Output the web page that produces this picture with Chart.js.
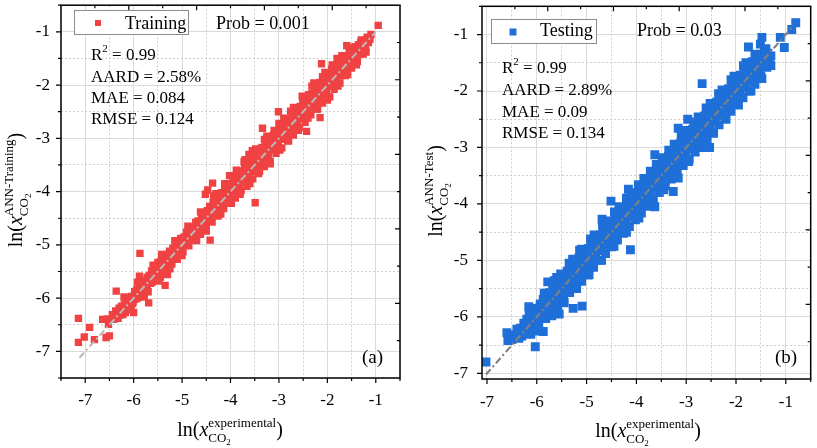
<!DOCTYPE html>
<html><head><meta charset="utf-8">
<script src="https://cdn.jsdelivr.net/npm/chart.js@4.4.1/dist/chart.umd.min.js"></script>
<style>
html,body{margin:0;padding:0;background:#fff;width:817px;height:448px;overflow:hidden}
#wa{position:absolute;left:0;top:0;width:410px;height:448px}
#wb{position:absolute;left:410px;top:0;width:407px;height:448px}
</style></head><body>
<div id="wa"><canvas id="ca" width="410" height="448"></canvas></div>
<div id="wb"><canvas id="cb" width="407" height="448"></canvas></div>
<script>
// ---------- data ----------
const tickLabels = [-7, -6, -5, -4, -3, -2, -1];
const ticksTrain = [-7.5,-7,-6.5,-6,-5.5,-5,-4.5,-4,-3.5,-3,-2.5,-2,-1.5,-1,-0.5];
const ticksTest = [-7,-6.5,-6,-5.5,-5,-4.5,-4,-3.5,-3,-2.5,-2,-1.5,-1,-0.5];
const diagTrain = [-7.12, -1.0];
const diagTest = [-7.02, -0.84];

const trainOutliers = [
[-7.14,-6.38],[-7.14,-6.83],[-7.02,-6.73],[-6.91,-6.55],[-6.81,-6.78],[-6.64,-6.40],[-6.57,-6.74],
[-6.50,-6.71],[-6.52,-6.49],[-6.55,-6.39],[-6.36,-5.87],[-5.87,-5.16],[-5.88,-5.59],[-5.35,-5.76],
[-5.30,-5.56],[-5.69,-6.09],[-6.00,-6.27],[-4.42,-4.91],[-4.37,-3.84],[-3.49,-4.21],[-3.34,-2.81],
[-3.01,-2.50],[-2.15,-2.61],[-2.43,-2.87],[-2.12,-1.60],[-1.60,-1.26],[-1.95,-2.22],[-0.95,-0.88],
[-4.47,-3.97],[-4.52,-4.05],[-3.62,-3.30]
];
const trainBand = [
[-6.44,-6.31],[-6.41,-6.40],[-6.37,-6.24],[-6.34,-6.35],
[-6.30,-6.19],[-6.28,-6.32],[-6.25,-6.15],[-6.22,-6.26],
[-6.19,-6.12],[-6.17,-6.27],[-6.14,-6.05],[-6.11,-6.21],[-6.09,-6.00],
[-6.06,-6.11],[-6.04,-5.97],[-6.01,-6.06],[-5.98,-5.88],[-5.96,-6.02],
[-5.93,-5.83],[-5.90,-5.96],[-5.88,-5.75],[-5.85,-5.89],[-5.82,-5.72],
[-5.80,-5.85],[-5.78,-5.67],[-5.75,-5.81],[-5.72,-5.61],[-5.70,-5.88],
[-5.68,-5.58],[-5.66,-5.72],[-5.63,-5.49],[-5.61,-5.65],[-5.58,-5.45],
[-5.56,-5.59],[-5.54,-5.40],[-5.52,-5.55],[-5.50,-5.33],[-5.47,-5.47],[-5.45,-5.61],
[-5.43,-5.29],[-5.41,-5.43],[-5.38,-5.21],[-5.36,-5.35],[-5.33,-5.47],
[-5.31,-5.18],[-5.29,-5.30],[-5.26,-5.12],[-5.24,-5.25],[-5.21,-5.36],
[-5.19,-5.06],[-5.17,-5.20],[-5.14,-5.02],[-5.12,-5.13],[-5.10,-5.27],
[-5.08,-4.95],[-5.05,-5.08],[-5.03,-4.88],[-5.01,-5.01],[-4.98,-5.13],
[-4.96,-4.85],[-4.94,-4.97],[-4.91,-4.76],[-4.89,-4.90],[-4.86,-5.02],
[-4.84,-4.71],[-4.82,-4.84],[-4.79,-4.66],[-4.77,-4.78],[-4.74,-4.90],
[-4.72,-4.58],[-4.70,-4.73],[-4.67,-4.55],[-4.65,-4.67],[-4.62,-4.80],
[-4.60,-4.47],[-4.58,-4.62],[-4.55,-4.40],[-4.53,-4.55],[-4.50,-4.68],
[-4.48,-4.36],[-4.46,-4.49],[-4.43,-4.28],[-4.41,-4.44],[-4.38,-4.57],
[-4.36,-4.21],[-4.34,-4.36],[-4.31,-4.16],[-4.29,-4.29],[-4.26,-4.46],[-4.30,-4.04],
[-4.24,-4.10],[-4.22,-4.26],[-4.19,-4.02],[-4.17,-4.17],[-4.14,-4.32],
[-4.12,-3.96],[-4.10,-4.12],[-4.07,-3.90],[-4.05,-4.06],[-4.02,-4.22],
[-4.00,-3.85],[-3.98,-4.02],[-3.95,-3.76],[-3.93,-3.92],[-3.90,-4.12],[-4.02,-3.70],
[-3.88,-3.74],[-3.86,-3.88],[-3.83,-3.65],[-3.81,-3.82],[-3.78,-3.98],
[-3.76,-3.61],[-3.74,-3.78],[-3.71,-3.52],[-3.69,-3.68],[-3.66,-3.90],[-3.72,-3.44],
[-3.64,-3.50],[-3.62,-3.64],[-3.59,-3.41],[-3.57,-3.58],[-3.54,-3.76],
[-3.52,-3.36],[-3.50,-3.53],[-3.47,-3.30],[-3.45,-3.45],[-3.42,-3.66],[-3.55,-3.23],
[-3.40,-3.26],[-3.38,-3.40],[-3.35,-3.17],[-3.33,-3.34],[-3.30,-3.53],
[-3.28,-3.12],[-3.26,-3.29],[-3.23,-3.06],[-3.21,-3.20],[-3.18,-3.43],[-3.25,-2.96],
[-3.16,-3.02],[-3.14,-3.16],[-3.11,-2.93],[-3.09,-3.10],[-3.06,-3.28],
[-3.04,-2.88],[-3.02,-3.05],[-2.99,-2.82],[-2.97,-2.96],[-2.94,-3.18],[-3.00,-2.72],
[-2.92,-2.77],[-2.90,-2.92],[-2.87,-2.70],[-2.85,-2.86],[-2.82,-3.04],
[-2.80,-2.64],[-2.78,-2.81],[-2.75,-2.58],[-2.73,-2.72],[-2.70,-2.94],[-2.76,-2.49],
[-2.68,-2.54],[-2.66,-2.68],[-2.63,-2.45],[-2.61,-2.62],[-2.58,-2.80],
[-2.56,-2.40],[-2.54,-2.57],[-2.51,-2.32],[-2.49,-2.48],[-2.46,-2.70],[-2.52,-2.21],
[-2.44,-2.30],[-2.42,-2.44],[-2.39,-2.18],[-2.37,-2.37],[-2.34,-2.56],
[-2.32,-2.16],[-2.30,-2.34],[-2.27,-2.06],[-2.25,-2.24],[-2.22,-2.45],[-2.28,-1.96],
[-2.20,-2.05],[-2.18,-2.20],[-2.15,-1.95],[-2.13,-2.14],[-2.10,-2.34],
[-2.08,-1.92],[-2.06,-2.10],[-2.03,-1.82],[-2.01,-2.00],[-1.98,-2.22],[-2.05,-1.76],
[-1.96,-1.82],[-1.94,-1.96],[-1.91,-1.70],[-1.89,-1.90],[-1.86,-2.08],
[-1.84,-1.68],[-1.82,-1.86],[-1.79,-1.60],[-1.77,-1.76],[-1.74,-1.96],[-1.80,-1.50],
[-1.72,-1.58],[-1.70,-1.72],[-1.67,-1.48],[-1.65,-1.66],[-1.62,-1.82],
[-1.60,-1.45],[-1.58,-1.62],[-1.55,-1.38],[-1.53,-1.54],[-1.50,-1.68],
[-1.48,-1.34],[-1.46,-1.50],[-1.43,-1.28],[-1.41,-1.42],[-1.38,-1.56],
[-1.36,-1.24],[-1.34,-1.38],[-1.31,-1.20],[-1.29,-1.32],[-1.26,-1.42],
[-1.24,-1.16],[-1.21,-1.28],[-1.18,-1.10],[-1.15,-1.20],[-1.12,-1.14]
];
const trainCore = [
[-6.35,-6.29],[-6.32,-6.38],[-6.25,-6.18],[-6.22,-6.31],[-6.15,-6.08],[-6.12,-6.21],[-6.05,-5.98],
[-6.02,-6.10],[-5.95,-5.87],[-5.92,-6.00],[-5.85,-5.78],[-5.82,-5.91],[-5.75,-5.68],[-5.72,-5.80],
[-5.65,-5.57],[-5.62,-5.71],[-5.55,-5.47],[-5.52,-5.61],[-5.45,-5.37],[-5.42,-5.50],[-5.35,-5.27],
[-5.32,-5.41],[-5.25,-5.17],[-5.22,-5.30],[-5.15,-5.07],[-5.12,-5.21],[-5.05,-4.97],[-5.02,-5.10],
[-4.95,-4.87],[-4.92,-5.01],[-4.85,-4.77],[-4.82,-4.91],[-4.75,-4.67],[-4.72,-4.80],[-4.65,-4.57],
[-4.62,-4.71],[-4.55,-4.47],[-4.52,-4.60],[-4.45,-4.37],[-4.42,-4.51],[-4.35,-4.27],[-4.32,-4.41],
[-4.25,-4.16],[-4.22,-4.31],[-4.15,-4.06],[-4.12,-4.21],[-4.05,-3.96],[-4.02,-4.11],[-3.95,-3.86],
[-3.92,-4.02],[-3.85,-3.76],[-3.82,-3.92],[-3.75,-3.66],[-3.72,-3.82],[-3.65,-3.56],[-3.62,-3.72],
[-3.55,-3.46],[-3.52,-3.62],[-3.45,-3.36],[-3.42,-3.52],[-3.35,-3.26],[-3.32,-3.42],[-3.25,-3.16],
[-3.22,-3.32],[-3.15,-3.06],[-3.12,-3.22],[-3.05,-2.96],[-3.02,-3.12],[-2.95,-2.86],[-2.92,-3.02],
[-2.85,-2.76],[-2.82,-2.92],[-2.75,-2.66],[-2.72,-2.82],[-2.65,-2.56],[-2.62,-2.72],[-2.55,-2.46],
[-2.52,-2.62],[-2.45,-2.36],[-2.42,-2.52],[-2.35,-2.26],[-2.32,-2.42],[-2.25,-2.16],[-2.22,-2.32],
[-2.15,-2.06],[-2.12,-2.22],[-2.05,-1.96],[-2.02,-2.12],[-1.95,-1.86],[-1.92,-2.02],[-1.85,-1.76],
[-1.82,-1.92],[-1.75,-1.66],[-1.72,-1.82],[-1.65,-1.56],[-1.62,-1.72],[-1.55,-1.47],[-1.52,-1.62],
[-1.45,-1.38],[-1.42,-1.52],[-1.35,-1.29],[-1.32,-1.42],[-1.25,-1.20],[-1.22,-1.32]
];
const trainEdge = [
[-6.20,-5.98],[-6.05,-6.22],[-5.92,-5.70],[-5.78,-5.98],[-5.60,-5.38],[-5.48,-5.68],[-5.42,-5.18],
[-5.25,-5.45],[-5.15,-4.92],[-5.00,-5.20],[-4.88,-4.65],[-4.70,-4.92],[-4.62,-4.38],[-4.50,-4.74],
[-4.35,-4.08],[-4.20,-4.42],[-4.12,-3.85],[-3.98,-4.22],[-3.88,-3.60],[-3.80,-4.05],[-3.70,-3.40],
[-3.60,-3.85],[-3.48,-3.20],[-3.40,-3.62],[-3.30,-3.02],[-3.18,-3.48],[-3.10,-2.85],[-2.98,-3.22],
[-2.90,-2.62],[-2.80,-3.05],[-2.70,-2.42],[-2.60,-2.85],[-2.50,-2.22],[-2.40,-2.62],[-2.32,-2.02],
[-2.20,-2.45],[-2.10,-1.84],[-2.00,-2.28],[-1.90,-1.62],[-1.78,-2.02],[-1.70,-1.45],[-1.58,-1.80],
[-1.52,-1.30],[-1.40,-1.62],[-1.30,-1.15],[-1.20,-1.38],[-1.10,-1.05]
];

const testOutliers = [
[-7.02,-6.80],[-6.56,-6.32],[-6.03,-6.53],[-5.87,-6.26],[-5.55,-5.95],[-6.16,-5.82],[-5.27,-5.85],
[-5.09,-5.81],[-5.78,-5.38],[-4.12,-4.81],[-4.97,-5.26],[-2.97,-2.50],[-3.16,-2.66],[-2.53,-3.00],
[-3.63,-3.13],[-3.16,-3.54],[-3.26,-3.78],[-3.63,-4.05],[-4.51,-3.95],[-4.16,-3.74],[-4.69,-4.27],
[-0.80,-0.79],[-0.88,-0.91],[-1.11,-1.05],[-1.03,-1.23],[-1.48,-1.05],[-1.51,-1.17],[-1.75,-1.22],
[-2.68,-1.87],[-6.60,-6.28],[-6.58,-6.42],[-6.50,-6.40],[-6.45,-6.33],[-6.40,-6.22],[-6.36,-6.38]
];
const testBand = [
[-6.33,-6.20],[-6.30,-6.34],[-6.26,-6.11],[-6.23,-6.26],
[-6.20,-6.04],[-6.18,-6.19],[-6.15,-5.99],[-6.12,-6.31],[-6.10,-6.12],
[-6.07,-5.94],[-6.04,-6.08],[-6.01,-5.85],[-5.99,-6.01],[-5.96,-6.17],
[-5.93,-5.77],[-5.90,-5.93],[-5.87,-5.69],[-5.85,-5.86],[-5.82,-6.03],
[-5.80,-5.65],[-5.78,-5.81],[-5.75,-5.57],[-5.72,-5.73],[-5.70,-5.92],
[-5.68,-5.53],[-5.66,-5.69],[-5.63,-5.44],[-5.61,-5.61],[-5.58,-5.81],[-5.65,-5.36],
[-5.56,-5.41],[-5.54,-5.57],[-5.51,-5.31],[-5.49,-5.49],[-5.46,-5.69],[-5.52,-5.24],
[-5.44,-5.29],[-5.42,-5.45],[-5.39,-5.19],[-5.37,-5.37],[-5.34,-5.57],
[-5.32,-5.15],[-5.30,-5.33],[-5.27,-5.07],[-5.25,-5.25],[-5.22,-5.47],[-5.28,-4.98],
[-5.20,-5.04],[-5.18,-5.21],[-5.15,-4.95],[-5.13,-5.13],[-5.10,-5.37],[-5.14,-4.82],
[-5.08,-4.91],[-5.06,-5.09],[-5.03,-4.85],[-5.01,-5.01],[-4.98,-5.24],
[-4.96,-4.79],[-4.94,-4.97],[-4.91,-4.71],[-4.89,-4.89],[-4.86,-5.12],[-4.92,-4.62],
[-4.84,-4.67],[-4.82,-4.85],[-4.79,-4.60],[-4.77,-4.77],[-4.74,-5.00],
[-4.72,-4.55],[-4.70,-4.73],[-4.67,-4.48],[-4.65,-4.65],[-4.62,-4.88],[-4.68,-4.38],
[-4.60,-4.43],[-4.58,-4.61],[-4.55,-4.36],[-4.53,-4.53],[-4.50,-4.76],
[-4.48,-4.31],[-4.46,-4.49],[-4.43,-4.24],[-4.41,-4.41],[-4.38,-4.64],[-4.44,-4.14],
[-4.36,-4.19],[-4.34,-4.37],[-4.31,-4.12],[-4.29,-4.29],[-4.26,-4.52],
[-4.24,-4.07],[-4.22,-4.25],[-4.19,-4.00],[-4.17,-4.17],[-4.14,-4.40],[-4.20,-3.90],
[-4.12,-3.95],[-4.10,-4.13],[-4.07,-3.88],[-4.05,-4.05],[-4.02,-4.28],
[-4.00,-3.83],[-3.98,-4.01],[-3.95,-3.76],[-3.93,-3.93],[-3.90,-4.16],[-3.96,-3.66],
[-3.88,-3.71],[-3.86,-3.89],[-3.83,-3.64],[-3.81,-3.81],[-3.78,-4.04],
[-3.76,-3.59],[-3.74,-3.77],[-3.71,-3.52],[-3.69,-3.69],[-3.66,-3.92],[-3.72,-3.42],
[-3.64,-3.47],[-3.62,-3.65],[-3.59,-3.40],[-3.57,-3.57],[-3.54,-3.80],
[-3.52,-3.35],[-3.50,-3.53],[-3.47,-3.28],[-3.45,-3.45],[-3.42,-3.68],[-3.48,-3.18],
[-3.40,-3.23],[-3.38,-3.41],[-3.35,-3.16],[-3.33,-3.33],[-3.30,-3.56],
[-3.28,-3.11],[-3.26,-3.29],[-3.23,-3.04],[-3.21,-3.21],[-3.18,-3.44],[-3.24,-2.94],
[-3.16,-2.99],[-3.14,-3.17],[-3.11,-2.92],[-3.09,-3.09],[-3.06,-3.32],
[-3.04,-2.87],[-3.02,-3.05],[-2.99,-2.80],[-2.97,-2.97],[-2.94,-3.20],[-3.00,-2.70],
[-2.92,-2.75],[-2.90,-2.93],[-2.87,-2.68],[-2.85,-2.85],[-2.82,-3.08],
[-2.80,-2.63],[-2.78,-2.81],[-2.75,-2.56],[-2.73,-2.73],[-2.70,-2.96],[-2.76,-2.46],
[-2.68,-2.51],[-2.66,-2.69],[-2.63,-2.44],[-2.61,-2.61],[-2.58,-2.84],
[-2.56,-2.39],[-2.54,-2.57],[-2.51,-2.32],[-2.49,-2.49],[-2.46,-2.72],[-2.52,-2.22],
[-2.44,-2.27],[-2.42,-2.45],[-2.39,-2.20],[-2.37,-2.37],[-2.34,-2.60],
[-2.32,-2.15],[-2.30,-2.33],[-2.27,-2.08],[-2.25,-2.25],[-2.22,-2.48],[-2.28,-1.98],
[-2.20,-2.03],[-2.18,-2.21],[-2.15,-1.96],[-2.13,-2.13],[-2.10,-2.36],
[-2.08,-1.91],[-2.06,-2.09],[-2.03,-1.84],[-2.01,-2.01],[-1.98,-2.24],[-2.04,-1.74],
[-1.96,-1.79],[-1.94,-1.97],[-1.91,-1.72],[-1.89,-1.89],[-1.86,-2.12],
[-1.84,-1.67],[-1.82,-1.85],[-1.79,-1.60],[-1.77,-1.77],[-1.74,-2.00],[-1.80,-1.50],
[-1.72,-1.55],[-1.70,-1.73],[-1.67,-1.48],[-1.65,-1.65],[-1.62,-1.88],
[-1.60,-1.45],[-1.58,-1.61],[-1.55,-1.38],[-1.53,-1.53],[-1.50,-1.74],
[-1.48,-1.35],[-1.46,-1.49],[-1.43,-1.30],[-1.41,-1.42],[-1.38,-1.58],
[-1.36,-1.33],[-1.33,-1.45],[-1.30,-1.38]
];
const testCore = [
[-6.25,-6.15],[-6.22,-6.30],[-6.15,-6.05],[-6.12,-6.20],[-6.05,-5.95],[-6.02,-6.12],[-5.95,-5.84],
[-5.92,-6.02],[-5.85,-5.74],[-5.82,-5.92],[-5.75,-5.64],[-5.72,-5.83],[-5.65,-5.54],[-5.62,-5.73],
[-5.55,-5.44],[-5.52,-5.63],[-5.45,-5.34],[-5.42,-5.53],[-5.35,-5.24],[-5.32,-5.43],[-5.25,-5.14],
[-5.22,-5.33],[-5.15,-5.04],[-5.12,-5.23],[-5.05,-4.94],[-5.02,-5.13],[-4.95,-4.84],[-4.92,-5.03],
[-4.85,-4.74],[-4.82,-4.93],[-4.75,-4.64],[-4.72,-4.83],[-4.65,-4.54],[-4.62,-4.73],[-4.55,-4.44],
[-4.52,-4.63],[-4.45,-4.34],[-4.42,-4.53],[-4.35,-4.24],[-4.32,-4.43],[-4.25,-4.14],[-4.22,-4.33],
[-4.15,-4.04],[-4.12,-4.23],[-4.05,-3.94],[-4.02,-4.13],[-3.95,-3.84],[-3.92,-4.03],[-3.85,-3.74],
[-3.82,-3.93],[-3.75,-3.64],[-3.72,-3.83],[-3.65,-3.54],[-3.62,-3.73],[-3.55,-3.44],[-3.52,-3.63],
[-3.45,-3.34],[-3.42,-3.53],[-3.35,-3.24],[-3.32,-3.43],[-3.25,-3.14],[-3.22,-3.33],[-3.15,-3.04],
[-3.12,-3.23],[-3.05,-2.94],[-3.02,-3.13],[-2.95,-2.84],[-2.92,-3.03],[-2.85,-2.74],[-2.82,-2.93],
[-2.75,-2.64],[-2.72,-2.83],[-2.65,-2.54],[-2.62,-2.73],[-2.55,-2.44],[-2.52,-2.63],[-2.45,-2.34],
[-2.42,-2.53],[-2.35,-2.24],[-2.32,-2.43],[-2.25,-2.14],[-2.22,-2.33],[-2.15,-2.04],[-2.12,-2.23],
[-2.05,-1.94],[-2.02,-2.13],[-1.95,-1.84],[-1.92,-2.03],[-1.85,-1.74],[-1.82,-1.93],[-1.75,-1.64],
[-1.72,-1.83],[-1.65,-1.54],[-1.62,-1.73],[-1.55,-1.46],[-1.52,-1.63],[-1.45,-1.38],[-1.42,-1.52]
];
const testEdge = [
[-6.15,-5.88],[-6.00,-6.25],[-5.85,-5.58],[-5.70,-5.98],[-5.60,-5.30],[-5.45,-5.75],[-5.35,-5.05],
[-5.20,-5.50],[-5.10,-4.80],[-4.95,-5.25],[-4.85,-4.55],[-4.70,-5.00],[-4.60,-4.30],[-4.45,-4.75],
[-4.35,-4.05],[-4.20,-4.50],[-4.10,-3.80],[-3.95,-4.25],[-3.85,-3.55],[-3.70,-4.00],[-3.60,-3.30],
[-3.45,-3.75],[-3.35,-3.05],[-3.20,-3.50],[-3.10,-2.80],[-2.95,-3.25],[-2.85,-2.55],[-2.70,-3.00],
[-2.60,-2.30],[-2.45,-2.75],[-2.35,-2.05],[-2.20,-2.50],[-2.10,-1.80],[-1.95,-2.25],[-1.85,-1.55],
[-1.70,-2.00],[-1.62,-1.35],[-1.48,-1.78],[-1.40,-1.25],[-1.30,-1.55]
];

const statsTrain = ['0.99', '2.58%', '0.084', '0.124'];
const statsTest = ['0.99', '2.89%', '0.09', '0.134'];
const probTrain = '0.001';
const probTest = '0.03';

// ---------- helpers ----------
const SERIF = '"Liberation Serif","Times New Roman",serif';
const fnt = (size, it) => (it ? 'italic ' : '') + size + 'px ' + SERIF;
const isInt = v => Math.abs(v - Math.round(v)) < 1e-6;
function segW(ctx, s) {
  if (s.stack) return Math.max(richW(ctx, s.stack[0]), richW(ctx, s.stack[1]));
  ctx.font = fnt(s.size, s.it); return ctx.measureText(s.t).width;
}
function richW(ctx, segs) { let w = 0; segs.forEach(s => w += segW(ctx, s)); return w; }
function drawRich(ctx, segs, x, y) {
  segs.forEach(s => {
    if (s.stack) { drawRich(ctx, s.stack[0], x, y); drawRich(ctx, s.stack[1], x, y); x += segW(ctx, s); }
    else { ctx.font = fnt(s.size, s.it); ctx.fillText(s.t, x, y + (s.dy || 0)); x += ctx.measureText(s.t).width; }
  });
}
function axisLabel(sup) {
  return [{t:'ln(', size:20}, {t:'x', size:20, it:true},
    {stack:[[{t:sup, size:13, dy:-9}], [{t:'CO', size:13, dy:6}, {t:'2', size:9, dy:9}]]},
    {t:')', size:20}];
}

function decor(cfg) {
  return {
    id: 'decor',
    afterDraw(chart) {
      const ctx = chart.ctx, a = chart.chartArea, xs = chart.scales.x, ys = chart.scales.y;
      ctx.save();
      ctx.strokeStyle = '#000';
      ctx.lineWidth = 1.2;
      ctx.beginPath();
      xs.ticks.forEach(t => { const p = xs.getPixelForValue(t.value); const L = isInt(t.value) ? 5 : 3; ctx.moveTo(p, a.bottom); ctx.lineTo(p, a.bottom + L); });
      ys.ticks.forEach(t => { const p = ys.getPixelForValue(t.value); const L = isInt(t.value) ? 5 : 3; ctx.moveTo(a.left, p); ctx.lineTo(a.left - L, p); });
      for (let i = 1; i < 10; i++) {
        const L = i % 2 === 0 ? 5 : 3;
        const px = xs.getPixelForValue(xs.min + (xs.max - xs.min) * i / 10);
        ctx.moveTo(px, a.top); ctx.lineTo(px, a.top + L);
        const py = ys.getPixelForValue(ys.min + (ys.max - ys.min) * i / 10);
        ctx.moveTo(a.right, py); ctx.lineTo(a.right - L, py);
      }
      ctx.stroke();
      ctx.lineWidth = 1.5;
      ctx.strokeRect(a.left, a.top, a.right - a.left, a.bottom - a.top);

      const lb = cfg.legend;
      ctx.fillStyle = '#fff'; ctx.fillRect(lb.x, lb.y, lb.w, lb.h);
      ctx.strokeStyle = '#8c8c8c'; ctx.lineWidth = 1; ctx.strokeRect(lb.x + 0.5, lb.y + 0.5, lb.w, lb.h);
      ctx.fillStyle = cfg.color; ctx.fillRect(lb.mx - lb.ms / 2, lb.my - lb.ms / 2, lb.ms, lb.ms);
      ctx.fillStyle = '#000'; ctx.textAlign = 'left'; ctx.textBaseline = 'alphabetic';
      ctx.font = fnt(18); ctx.fillText(cfg.name, lb.tx, lb.ty);
      ctx.fillText('Prob = ' + cfg.prob, cfg.probX, lb.ty);

      const st = cfg.stats, sx = cfg.statX;
      drawRich(ctx, [{t:'R', size:17}, {t:'2', size:11, dy:-8}, {t:' = ' + st[0], size:17}], sx, cfg.statY[0]);
      ctx.font = fnt(17);
      ctx.fillText('AARD = ' + st[1], sx, cfg.statY[1]);
      ctx.fillText('MAE = ' + st[2], sx, cfg.statY[2]);
      ctx.fillText('RMSE = ' + st[3], sx, cfg.statY[3]);
      ctx.font = fnt(19);
      ctx.fillText(cfg.tag, cfg.tagX, cfg.tagY);

      const xl = axisLabel('experimental');
      drawRich(ctx, xl, cfg.xlab.x - richW(ctx, xl) / 2, cfg.xlab.y);
      const yl = axisLabel(cfg.ysup);
      ctx.translate(cfg.ylab.x, cfg.ylab.y); ctx.rotate(-Math.PI / 2);
      drawRich(ctx, yl, -richW(ctx, yl) / 2, 0);
      ctx.restore();
    }
  };
}

function makeChart(id, cfg) {
  const setTicks = s => { s.ticks = cfg.ticks.map(v => ({value: v})); };
  const lab = v => isInt(v) && tickLabels.includes(Math.round(v)) ? String(Math.round(v)) : '';
  const gridColor = c => (c.tick && !isInt(c.tick.value)) ? '#cfcfcf' : '#dadada';
  const gridDash = c => (c.tick && !isInt(c.tick.value)) ? [2, 2] : [];
  const tickFont = {family: SERIF, size: 17};
  return new Chart(document.getElementById(id), {
    type: 'scatter',
    data: { datasets: [
      { type: 'line', data: cfg.diag.map(v => ({x: v, y: v})), borderColor: cfg.diagColor, borderWidth: 2,
        borderDash: [7, 3, 2, 3], pointRadius: 0, fill: false, tension: 0, order: 0 },
      { data: cfg.points.map(p => ({x: p[0], y: p[1]})), pointStyle: 'rect', pointRadius: cfg.r,
        pointHoverRadius: cfg.r, backgroundColor: cfg.color, borderWidth: 0, order: 1 }
    ]},
    options: {
      responsive: false, animation: false, events: [],
      layout: { padding: { top: cfg.padTop, right: cfg.padRight, left: 0, bottom: 0 } },
      plugins: { legend: { display: false }, tooltip: { enabled: false } },
      scales: {
        x: { type: 'linear', min: cfg.min, max: -0.5, afterBuildTicks: setTicks,
             afterFit: s => { s.height = cfg.xh; s.paddingLeft = 0; s.paddingRight = 0; },
             ticks: { callback: lab, font: tickFont, color: '#000', padding: cfg.xpad, maxRotation: 0, autoSkip: false },
             grid: { drawTicks: false, color: gridColor, lineWidth: 1 },
             border: { display: false, dash: gridDash } },
        y: { type: 'linear', min: cfg.min, max: -0.5, afterBuildTicks: setTicks,
             afterFit: s => { s.width = cfg.yw; s.paddingTop = 0; s.paddingBottom = 0; },
             ticks: { callback: lab, font: tickFont, color: '#000', padding: cfg.ypad, autoSkip: false },
             grid: { drawTicks: false, color: gridColor, lineWidth: 1 },
             border: { display: false, dash: gridDash } }
      }
    },
    plugins: [decor(cfg)]
  });
}

makeChart('ca', {
  points: trainBand.concat(trainCore, trainEdge, trainOutliers), diag: diagTrain, diagColor: '#b9b9b9', ticks: ticksTrain,
  color: '#f04242', r: 5.2, min: -7.5, padTop: 3, padRight: 10, xh: 70, yw: 61, xpad: 12, ypad: 11,
  name: 'Training', prob: probTrain, stats: statsTrain, tag: '(a)', ysup: 'ANN-Training',
  legend: {x: 74, y: 10, w: 114, h: 24, mx: 98, my: 23, ms: 6, tx: 125, ty: 29},
  probX: 216, statX: 91, statY: [60, 82, 103, 124], tagX: 362, tagY: 363,
  xlab: {x: 230, y: 436}, ylab: {x: 22, y: 190}
});
makeChart('cb', {
  points: testBand.concat(testCore, testEdge, testOutliers), diag: diagTest, diagColor: '#808080', ticks: ticksTest,
  color: '#1f6fd8', r: 6.3, min: -7.1, padTop: 4, padRight: 3, xh: 69, yw: 72, xpad: 13, ypad: 14,
  name: 'Testing', prob: probTest, stats: statsTest, tag: '(b)', ysup: 'ANN-Test',
  legend: {x: 81, y: 19, w: 105, h: 24, mx: 103, my: 32, ms: 7, tx: 130, ty: 36},
  probX: 227, statX: 92, statY: [73, 95, 117, 138], tagX: 365, tagY: 363,
  xlab: {x: 238, y: 437}, ylab: {x: 32, y: 191}
});
</script>
</body></html>
